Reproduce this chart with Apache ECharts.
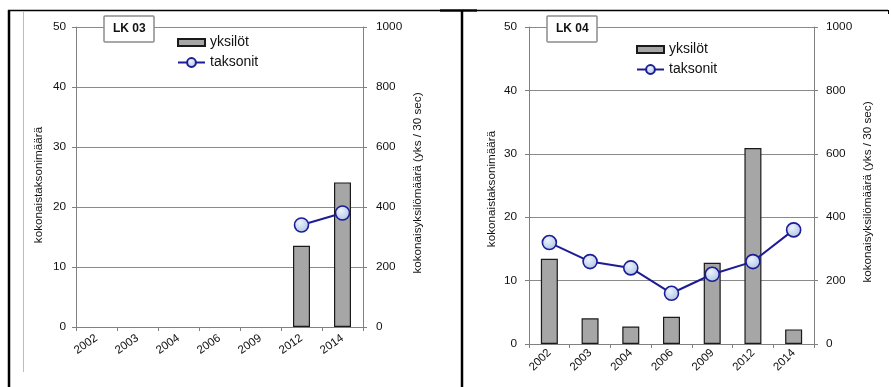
<!DOCTYPE html>
<html>
<head>
<meta charset="utf-8">
<script src="https://cdn.jsdelivr.net/npm/echarts@6/dist/echarts.min.js"></script>
<style>
html,body{margin:0;padding:0;background:#fff;}
#chart{width:891px;height:387px;}
</style>
</head>
<body>
<div id="chart"></div>
<script>
// ---- data ----
var categories = ['2002', '2003', '2004', '2006', '2009', '2012', '2014'];
var lk03Yksilot = [null, null, null, null, null, 271, 482];
var lk03Taksonit = [null, null, null, null, null, 17, 19];
var lk04Yksilot = [269, 81, 55, 86, 256, 618, 46];
var lk04Taksonit = [16, 13, 12, 8, 11, 13, 18];
var leftTicks = [0, 50, 10];    // min, max, interval
var rightTicks = [0, 1000, 200];
var panelTitles = ['LK 03', 'LK 04'];
var seriesNames = ['yksilöt', 'taksonit'];
var leftAxisName = 'kokonaistaksonimäärä';
var rightAxisName = 'kokonaisyksilömäärä (yks / 30 sec)';

var FONT = '"Liberation Sans", Arial, sans-serif';
var axisGray = '#808080';
var txt = '#111';

function yAx(gi, isRight, ticks, margin, showSplit) {
  return {
    type: 'value', gridIndex: gi, position: isRight ? 'right' : 'left',
    min: ticks[0], max: ticks[1], interval: ticks[2],
    axisLine: {show: true, lineStyle: {color: axisGray, width: 1}},
    axisTick: {show: true, length: 4, lineStyle: {color: axisGray}},
    axisLabel: {color: txt, fontFamily: FONT, fontSize: 11.8, margin: margin,
      formatter: function (v) { return String(v); }},
    splitLine: {show: showSplit, lineStyle: {color: '#8a8a8a', width: 1}}
  };
}
function xAx(gi, rot, margin) {
  return {
    type: 'category', gridIndex: gi, data: categories,
    axisLine: {lineStyle: {color: axisGray}},
    axisTick: {show: true, length: 4, interval: 0, lineStyle: {color: axisGray}},
    axisLabel: {interval: 0, rotate: rot, color: txt, fontFamily: FONT, fontSize: 11.5, margin: margin}
  };
}
var markerFill = {
  type: 'radial', x: 0.4, y: 0.35, r: 0.7,
  colorStops: [{offset: 0, color: '#eef3fb'}, {offset: 1, color: '#a9c2e4'}]
};
function barS(xi, yi, data) {
  return {
    name: seriesNames[0], type: 'bar', xAxisIndex: xi, yAxisIndex: yi, data: data,
    barWidth: 17,
    itemStyle: {color: '#a6a6a6', borderColor: '#1a1a1a', borderWidth: 1.2}
  };
}
function lineS(xi, yi, data) {
  return {
    name: seriesNames[1], type: 'line', xAxisIndex: xi, yAxisIndex: yi, data: data,
    symbol: 'circle', symbolSize: 14, z: 5,
    lineStyle: {color: '#1c1c96', width: 2},
    itemStyle: {color: markerFill, borderColor: '#1c1c96', borderWidth: 1.6}
  };
}
function legendAt(left, top) {
  return {
    left: left, top: top, orient: 'vertical', itemWidth: 27, itemHeight: 11, itemGap: 5,
    padding: 0, selectedMode: false,
    data: [
      {name: seriesNames[0], icon: 'path://M0,0h27v7h-27z'},
      {name: seriesNames[1]}
    ],
    textStyle: {color: txt, fontFamily: FONT, fontSize: 14, lineHeight: 15}
  };
}
function titleAt(text, left) {
  return {
    text: text, left: left, top: 16,
    padding: [7, 9, 7, 9],
    borderColor: '#8c8c8c', borderWidth: 1.5, borderRadius: 1,
    backgroundColor: '#fff',
    textStyle: {fontFamily: FONT, fontSize: 12, fontWeight: 'bold', color: txt}
  };
}
function vName(text, x, y) {
  return {
    type: 'text', x: x, y: y, rotation: Math.PI / 2, z: 10,
    style: {text: text, fill: txt, font: '11.7px ' + FONT, align: 'center', verticalAlign: 'middle'}
  };
}
function ln(x1, y1, x2, y2, w, c) {
  return {type: 'line', shape: {x1: x1, y1: y1, x2: x2, y2: y2}, style: {stroke: c, lineWidth: w}, z: 20};
}

var chart = echarts.init(document.getElementById('chart'), null, {renderer: 'canvas'});
chart.setOption({
  animation: false,
  backgroundColor: '#fff',
  title: [titleAt(panelTitles[0], 104), titleAt(panelTitles[1], 547)],
  legend: [legendAt(177, 35), legendAt(636, 42)],
  grid: [
    {left: 76, top: 27, width: 287, height: 300},
    {left: 529, top: 27, width: 285, height: 317}
  ],
  xAxis: [xAx(0, 35, 10), xAx(1, 45, 7)],
  yAxis: [
    yAx(0, false, leftTicks, 10, true),
    yAx(0, true, rightTicks, 13, false),
    yAx(1, false, leftTicks, 12, true),
    yAx(1, true, rightTicks, 12, false)
  ],
  series: [
    barS(0, 1, lk03Yksilot),
    lineS(0, 0, lk03Taksonit),
    barS(1, 3, lk04Yksilot),
    lineS(1, 2, lk04Taksonit)
  ],
  graphic: [
    vName(leftAxisName, 39, 185),
    vName(rightAxisName, 418, 183),
    vName(leftAxisName, 492, 189),
    vName(rightAxisName, 868, 192),
    ln(8, 10.5, 440, 10.5, 1.5, '#000'),
    ln(440, 10.5, 477, 10.5, 2.5, '#000'),
    ln(477, 10.5, 888, 10.5, 1.5, '#000'),
    ln(888.5, 10, 888.5, 14, 1, '#000'),
    ln(9, 10, 9, 387, 2.5, '#000'),
    ln(23.5, 11, 23.5, 372, 1, '#bdbdbd'),
    ln(462, 10, 462, 387, 2.5, '#000')
  ]
});
</script>
</body>
</html>
